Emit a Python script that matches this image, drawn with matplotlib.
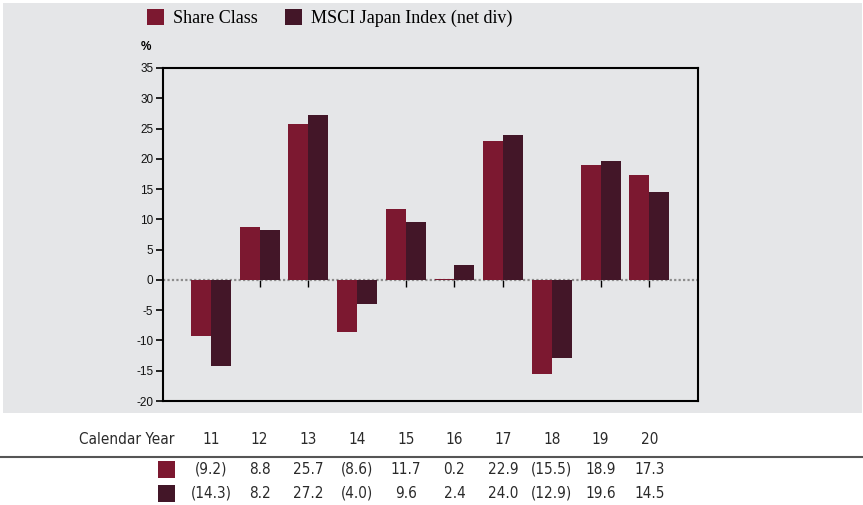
import numpy as np
import matplotlib
matplotlib.use('Agg')
import matplotlib.pyplot as plt
import matplotlib.transforms as mtransforms
from matplotlib.patches import Rectangle

# Data
years = ['11', '12', '13', '14', '15', '16', '17', '18', '19', '20']
share_class = [-9.2, 8.8, 25.7, -8.6, 11.7, 0.2, 22.9, -15.5, 18.9, 17.3]
msci_japan = [-14.3, 8.2, 27.2, -4.0, 9.6, 2.4, 24.0, -12.9, 19.6, 14.5]
series_names = ['Share Class', 'MSCI Japan Index (net div)']
yticks = list(range(-20, 40, 5))

# Style
col_share = '#7c1830'
col_index = '#431628'
bg = '#e5e6e8'
W, H = 863, 505
sans = ['Liberation Sans', 'DejaVu Sans']
serif = ['Liberation Serif', 'DejaVu Serif']
tbl_font = dict(family='DejaVu Sans', fontstretch='condensed', fontsize=11, color='#2a2a2a')


def fmt(v):
    # negative returns shown in brackets
    return '(%.1f)' % abs(v) if v < 0 else '%.1f' % v


fig = plt.figure(figsize=(W / 100, H / 100), dpi=100, facecolor='white')
# grey panel behind the chart
fig.patches.append(Rectangle((3 / W, 1 - 413 / H), 859 / W, 410 / H,
                             transform=fig.transFigure, facecolor=bg,
                             edgecolor='none', zorder=-5))

ax = fig.add_axes([163 / W, 1 - 401 / H, 535 / W, 333 / H])
ax.set_zorder(2)
ax.set_facecolor(bg)
x = np.arange(len(years))
bw = 0.41
b1 = ax.bar(x - bw / 2, share_class, bw, color=col_share, label=series_names[0], zorder=2)
b2 = ax.bar(x + bw / 2, msci_japan, bw, color=col_index, label=series_names[1], zorder=2)
ax.axhline(0, color='#8c8c8c', lw=1.6, linestyle=(0, (1, 1)), zorder=1)

ax.set_xlim(-0.985, 10.0)
ax.set_ylim(-20, 35)
ax.set_yticks(yticks)
ax.set_yticklabels([str(t) for t in yticks], fontsize=8.5, family=sans, color='#111111')
ax.tick_params(axis='y', direction='out', length=5, width=1.2, pad=2)
ax.set_xticks([])
for s in ax.spines.values():
    s.set_linewidth(1.5)
    s.set_color('black')

# small ticks hanging off the zero line, one per year
zero_ax = ax.secondary_xaxis(20 / 55)
zero_ax.set_xticks(x)
zero_ax.set_xticklabels([])
zero_ax.tick_params(direction='out', length=5, width=1.0, color='black')
zero_ax.spines['bottom'].set_visible(False)

fig.text(146 / W, 1 - 47 / H, '%', fontsize=8.5, fontweight='bold',
         family=sans, ha='center', va='center')

fig.legend(handles=[b1, b2], loc='upper left', bbox_to_anchor=(147 / W, 1 - 9 / H),
           ncol=2, frameon=False, borderpad=0, borderaxespad=0,
           handlelength=0.95, handleheight=0.95, handletextpad=0.5,
           columnspacing=1.5, prop={'family': serif, 'size': 13})

# table of annual returns under the chart
trans = mtransforms.blended_transform_factory(ax.transData, fig.transFigure)
y_head = 1 - 440 / H
y_rows = [1 - 469 / H, 1 - 493 / H]
fig.text(174 / W, y_head, 'Calendar Year', ha='right', va='center', **tbl_font)
for i, yr in enumerate(years):
    fig.text(i, y_head, yr, transform=trans, ha='center', va='center', **tbl_font)
fig.add_artist(plt.Line2D([0, 862 / W], [1 - 457 / H] * 2, transform=fig.transFigure,
                          color='#555555', lw=1.5))
for row, vals, col in zip(y_rows, [share_class, msci_japan], [col_share, col_index]):
    fig.patches.append(Rectangle((158 / W, row - 8.5 / H), 17 / W, 17 / H,
                                 transform=fig.transFigure, facecolor=col,
                                 edgecolor='none'))
    for i, v in enumerate(vals):
        fig.text(i, row, fmt(v), transform=trans, ha='center', va='center', **tbl_font)

fig.savefig('out.png', dpi=100, facecolor='white')
